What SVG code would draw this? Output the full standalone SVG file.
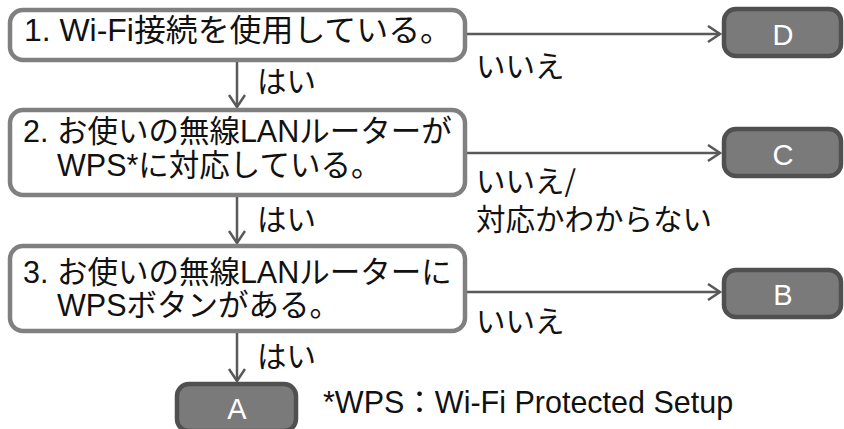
<svg xmlns="http://www.w3.org/2000/svg" width="844" height="429" viewBox="0 0 844 429">
<style>
.q{fill:#fff;stroke:#808080;stroke-width:4.5}
.r{fill:#7a7a7a;stroke:#505050;stroke-width:4.5}
.t{font-family:"Liberation Sans","Noto Sans CJK JP",sans-serif;font-size:30.5px;fill:#111}
.w{font-family:"Liberation Sans","Noto Sans CJK JP",sans-serif;font-size:29px;fill:#fff;text-anchor:middle}
.l{font-family:"Noto Sans CJK JP","Liberation Sans",sans-serif;font-size:29.5px;fill:#111}
.c{stroke:#595959;stroke-width:2.5;fill:none}
</style>
<defs>
<marker id="ah" markerWidth="16" markerHeight="20" refX="13" refY="9" orient="auto" markerUnits="userSpaceOnUse" viewBox="0 0 16 20">
<path d="M1,1 L13,9 L1,17" fill="none" stroke="#595959" stroke-width="2.5"/>
</marker>
</defs>
<g id="connectors">
<line class="c" x1="237" y1="62" x2="237" y2="107" marker-end="url(#ah)"/>
<line class="c" x1="237" y1="197" x2="237" y2="243" marker-end="url(#ah)"/>
<line class="c" x1="237" y1="333" x2="237" y2="381" marker-end="url(#ah)"/>
<line class="c" x1="467" y1="34" x2="720" y2="34" marker-end="url(#ah)"/>
<line class="c" x1="467" y1="153" x2="720" y2="153" marker-end="url(#ah)"/>
<line class="c" x1="467" y1="292" x2="720" y2="292" marker-end="url(#ah)"/>
<text class="l" x="257" y="92">はい</text>
<text class="l" x="257" y="230">はい</text>
<text class="l" x="257" y="367">はい</text>
<text class="l" x="476" y="77">いいえ</text>
<text class="l" x="476" y="192">いいえ/</text>
<text class="l" x="476" y="230">対応かわからない</text>
<text class="l" x="476" y="332">いいえ</text>
</g>
<g id="q1">
<rect class="q" x="10" y="10" width="455" height="50" rx="13"/>
<text class="t" x="24" y="41" textLength="428" lengthAdjust="spacingAndGlyphs">1. Wi-Fi接続を使用している。</text>
</g>
<g id="q2">
<rect class="q" x="10" y="110" width="455" height="85" rx="13"/>
<text class="t" x="23" y="142">2. お使いの無線LANルーターが</text>
<text class="t" x="57" y="176">WPS*に対応している。</text>
</g>
<g id="q3">
<rect class="q" x="10" y="246" width="455" height="85" rx="13"/>
<text class="t" x="23" y="283">3. お使いの無線LANルーターに</text>
<text class="t" x="57" y="316">WPSボタンがある。</text>
</g>
<g id="D">
<rect class="r" x="724" y="9" width="117" height="47" rx="12"/>
<text class="w" x="783" y="45">D</text>
</g>
<g id="C">
<rect class="r" x="724" y="129" width="117" height="47" rx="12"/>
<text class="w" x="783" y="165">C</text>
</g>
<g id="B">
<rect class="r" x="724" y="270" width="117" height="47" rx="12"/>
<text class="w" x="783" y="305">B</text>
</g>
<g id="A">
<rect class="r" x="177" y="384" width="119" height="47" rx="12"/>
<text class="w" x="237" y="419">A</text>
</g>
<g id="note">
<text class="t" x="323" y="413">*WPS：Wi-Fi Protected Setup</text>
</g>
</svg>
